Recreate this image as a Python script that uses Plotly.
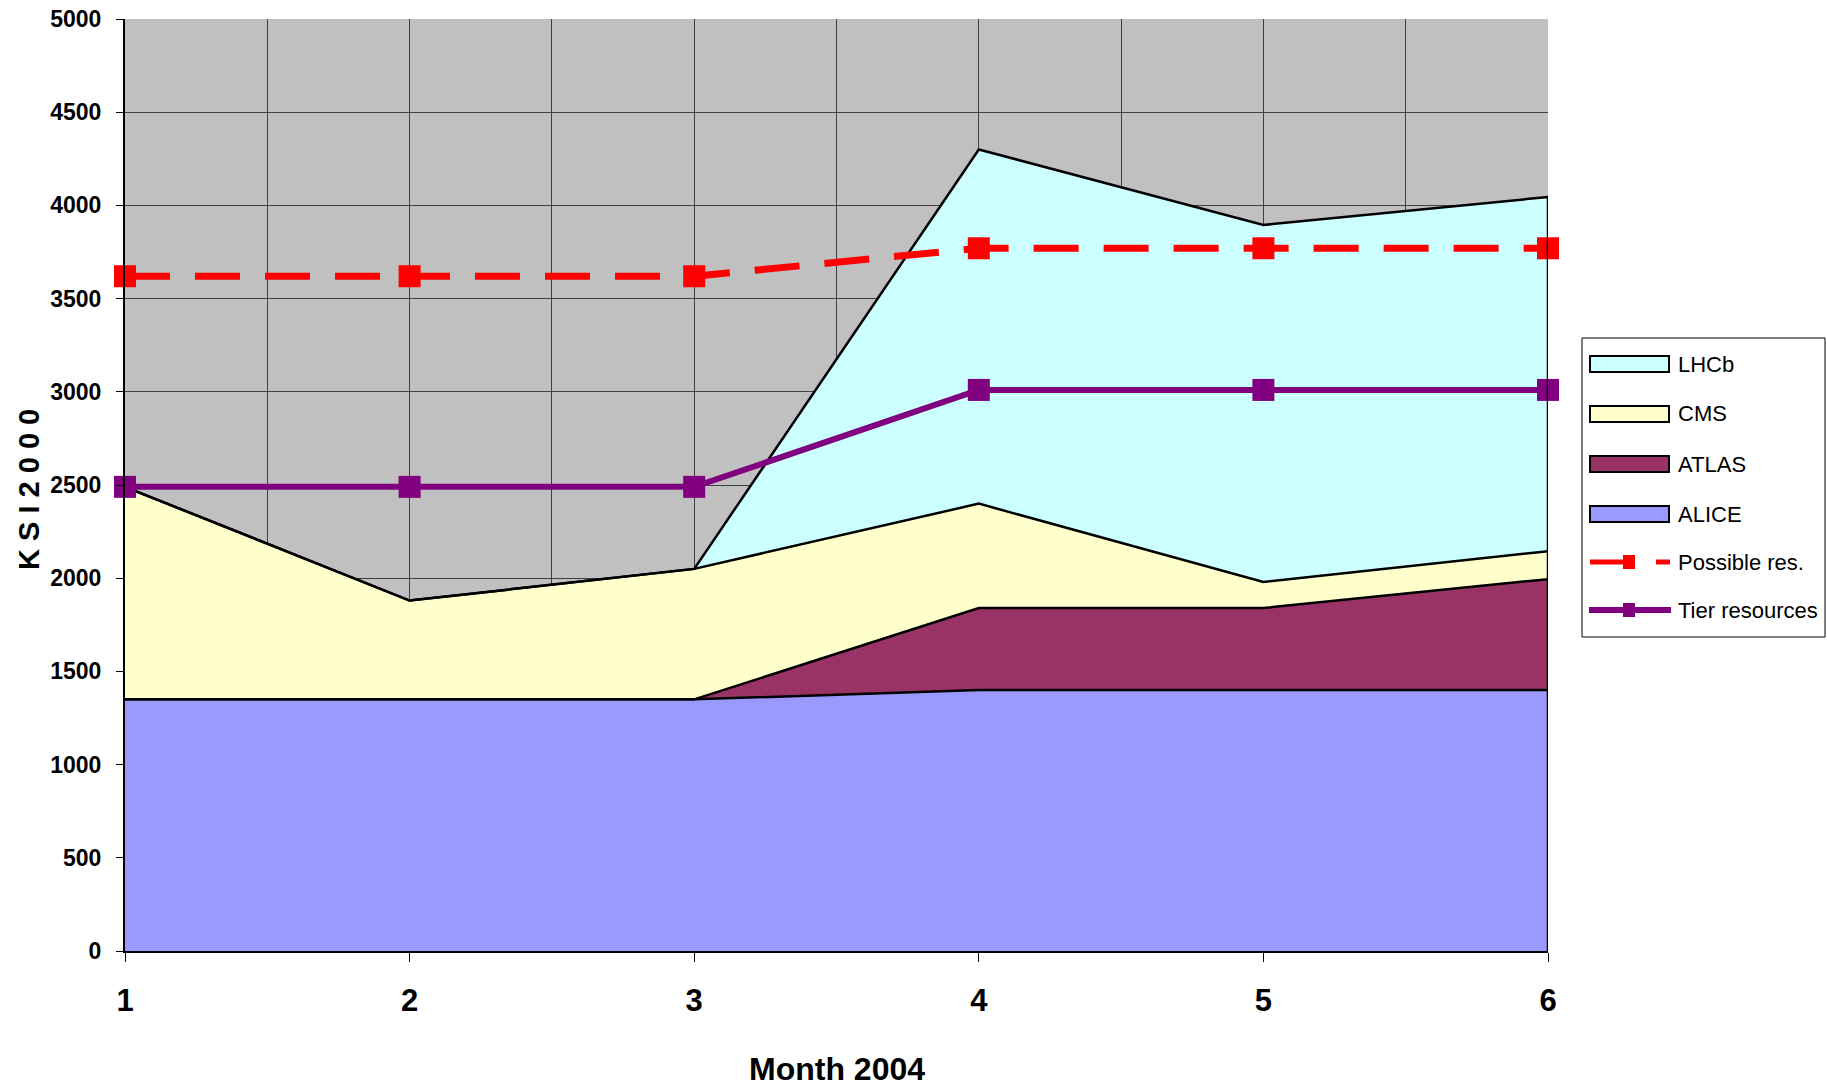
import plotly.graph_objects as go

# Monthly CPU capacity (KSI2000) by experiment, 2004
months = [1, 2, 3, 4, 5, 6]
month_labels = ["1", "2", "3", "4", "5", "6"]
alice = [1350, 1350, 1350, 1400, 1400, 1400]
atlas = [0, 0, 0, 440, 440, 595]
cms = [1140, 530, 700, 560, 140, 150]
lhcb = [0, 0, 0, 1900, 1915, 1900]
possible_res = [3620, 3620, 3620, 3770, 3770, 3770]
tier_resources = [2490, 2490, 2490, 3010, 3010, 3010]

FONT = "Liberation Sans, Arial, sans-serif"
W, H = 1827, 1091
ML, MR, MT, MB = 125, 279, 19, 140
PW, PH = W - ML - MR, H - MT - MB

AREA_COLORS = {"ALICE": "#9999FF", "ATLAS": "#993366", "CMS": "#FFFFCC", "LHCb": "#CCFFFF"}
RED, PURPLE = "#FF0000", "#800080"

fig = go.Figure()

# stacked experiment areas, bottom to top
for name, vals in [("ALICE", alice), ("ATLAS", atlas), ("CMS", cms), ("LHCb", lhcb)]:
    fig.add_trace(go.Scatter(
        x=months, y=vals, name=name, mode="lines",
        stackgroup="experiments",
        line=dict(color="black", width=2.5),
        fillcolor=AREA_COLORS[name], showlegend=False,
    ))

fig.add_trace(go.Scatter(
    x=months, y=possible_res, name="Possible res.", mode="lines+markers",
    line=dict(color=RED, width=7, dash="45px,25px"),
    marker=dict(symbol="square", size=22, color=RED),
    cliponaxis=False, showlegend=False,
))
fig.add_trace(go.Scatter(
    x=months, y=tier_resources, name="Tier resources", mode="lines+markers",
    line=dict(color=PURPLE, width=6),
    marker=dict(symbol="square", size=22, color=PURPLE),
    cliponaxis=False, showlegend=False,
))

stack_top_last = alice[-1] + atlas[-1] + cms[-1] + lhcb[-1]


# legend box drawn in pixel space, converted to paper coordinates
def px(x):
    return (x - ML) / PW


def py(y):
    return (H - MB - y) / PH


shapes = [
    # right-hand edge of the stacked area
    dict(type="line", xref="x", yref="y", x0=months[-1], x1=months[-1],
         y0=0, y1=stack_top_last, line=dict(color="black", width=2.5), layer="above"),
    # legend frame
    dict(type="rect", xref="paper", yref="paper", x0=px(1582), x1=px(1825),
         y0=py(637), y1=py(338), line=dict(color="black", width=1), fillcolor="white"),
]
annotations = []

legend_rows = [
    ("LHCb", 364), ("CMS", 414), ("ATLAS", 464), ("ALICE", 514),
    ("Possible res.", 562), ("Tier resources", 610),
]
for label, yc in legend_rows:
    if label in AREA_COLORS:
        shapes.append(dict(type="rect", xref="paper", yref="paper",
                           x0=px(1590), x1=px(1669), y0=py(yc + 8), y1=py(yc - 8),
                           line=dict(color="black", width=2), fillcolor=AREA_COLORS[label]))
    elif label == "Possible res.":
        shapes.append(dict(type="line", xref="paper", yref="paper",
                           x0=px(1590), x1=px(1626), y0=py(yc), y1=py(yc),
                           line=dict(color=RED, width=5)))
        shapes.append(dict(type="line", xref="paper", yref="paper",
                           x0=px(1656), x1=px(1670), y0=py(yc), y1=py(yc),
                           line=dict(color=RED, width=5)))
        shapes.append(dict(type="rect", xref="paper", yref="paper",
                           x0=px(1623), x1=px(1635), y0=py(yc + 7), y1=py(yc - 7),
                           line=dict(width=0), fillcolor=RED))
    else:
        shapes.append(dict(type="line", xref="paper", yref="paper",
                           x0=px(1589), x1=px(1671), y0=py(yc), y1=py(yc),
                           line=dict(color=PURPLE, width=6)))
        shapes.append(dict(type="rect", xref="paper", yref="paper",
                           x0=px(1623), x1=px(1635), y0=py(yc + 7), y1=py(yc - 7),
                           line=dict(width=0), fillcolor=PURPLE))
    annotations.append(dict(text=label, xref="paper", yref="paper", x=px(1676), y=py(yc),
                            xanchor="left", yanchor="middle", showarrow=False,
                            font=dict(size=22, family=FONT, color="black")))

annotations += [
    dict(text="Month 2004", xref="paper", yref="paper", x=0.5, y=py(1069),
         xanchor="center", yanchor="middle", showarrow=False,
         font=dict(size=32, family=FONT, weight="bold")),
    dict(text="K S I 2 0 0 0", xref="paper", yref="paper", x=px(29), y=py(490),
         xanchor="center", yanchor="middle", showarrow=False, textangle=-90,
         font=dict(size=29, family=FONT, weight="bold")),
]

fig.update_layout(
    width=W, height=H,
    margin=dict(l=ML, r=MR, t=MT, b=MB, autoexpand=False),
    paper_bgcolor="white",
    plot_bgcolor="#C0C0C0",
    font=dict(family=FONT, color="black"),
    showlegend=False,
    xaxis=dict(
        range=[1, 6], tickvals=months, ticktext=month_labels,
        showgrid=True, gridcolor="#404040", gridwidth=1,
        minor=dict(tick0=1, dtick=0.5, showgrid=True, gridcolor="#404040", gridwidth=1),
        showline=True, linecolor="black", linewidth=2,
        ticks="outside", ticklen=9, tickcolor="black", tickwidth=1,
        ticklabelstandoff=12,
        tickfont=dict(size=31, family=FONT, weight="bold"),
        zeroline=False,
    ),
    yaxis=dict(
        range=[0, 5000], dtick=500,
        showgrid=True, gridcolor="#404040", gridwidth=1,
        showline=True, linecolor="black", linewidth=2,
        ticks="outside", ticklen=7, tickcolor="black", tickwidth=1,
        ticklabelstandoff=10,
        tickfont=dict(size=23, family=FONT, weight="bold"),
        zeroline=False,
    ),
    shapes=shapes,
    annotations=annotations,
)

fig.write_html("out.html")
